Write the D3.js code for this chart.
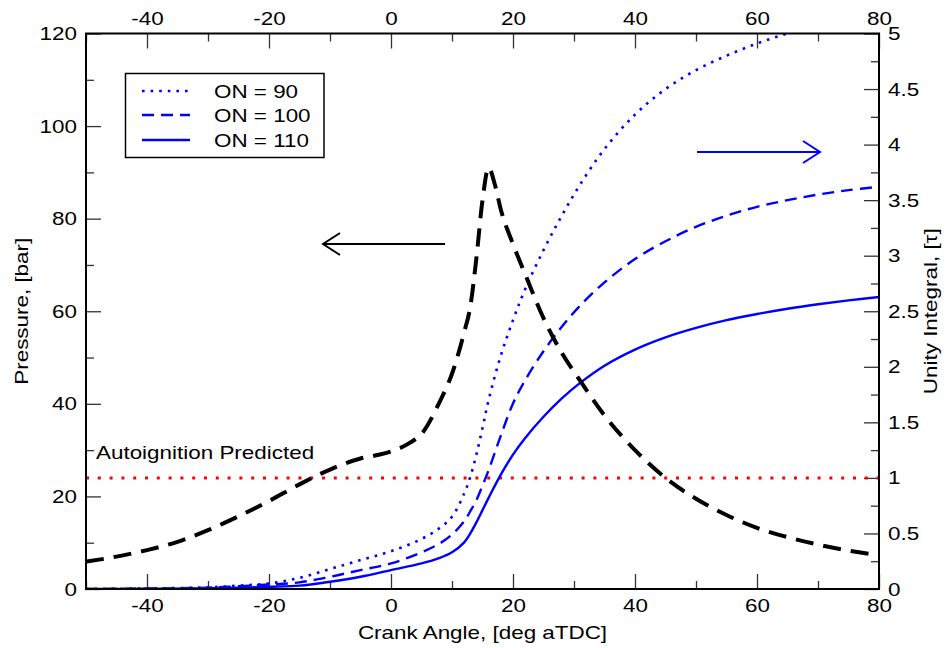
<!DOCTYPE html>
<html>
<head>
<meta charset="utf-8">
<script src="https://cdn.jsdelivr.net/npm/d3@7"></script>
<style>
  html, body { margin: 0; padding: 0; background: #fff; }
  svg { display: block; font-family: "Liberation Sans", Arial, Helvetica, sans-serif; }
</style>
</head>
<body>
<svg id="chart" width="949" height="648"></svg>
<script>
// Crank angle grid, deg aTDC
const pressureAngle = [-50,-45,-40,-35,-30,-25,-20,-15,-10,-5,-2,0,3,5,8,10,12,13,14,15,16,17,18,20,22,25,28,31,35,40,45,50,55,60,65,70,75,80];
// Cylinder pressure, bar (left axis)
const pressureBar  = [5.9,7.0,8.4,10.2,12.7,15.7,19.0,22.6,25.8,28.2,29.0,29.7,31.5,33.5,40.5,46.5,55.5,61,71.5,84,91,87.5,82,74.5,68,58.5,51,45,37.5,30,24,19.5,16,13.2,11.2,9.6,8.3,7.3];

// Unity integral (right axis) for three octane numbers
const tauAngle = [-50,-40,-30,-25,-20,-15,-10,-5,0,5,8,10,12,13,14,15,16,18,20,22,25,28,31,35,40,45,50,55,60,65,70,75,80];
const tauON90  = [0,0.005,0.015,0.03,0.05,0.10,0.18,0.26,0.34,0.45,0.55,0.65,0.86,1.01,1.21,1.45,1.70,2.10,2.42,2.70,3.05,3.36,3.64,3.96,4.27,4.50,4.67,4.80,4.91,5.00,5.07,5.13,5.18];
const tauON100 = [0,0.004,0.012,0.025,0.04,0.06,0.11,0.17,0.23,0.33,0.41,0.49,0.61,0.70,0.80,0.93,1.07,1.38,1.67,1.88,2.14,2.36,2.55,2.76,2.97,3.13,3.26,3.36,3.44,3.50,3.55,3.59,3.62];
const tauON110 = [0,0.002,0.008,0.012,0.02,0.03,0.065,0.11,0.17,0.23,0.28,0.33,0.42,0.50,0.60,0.71,0.82,1.03,1.21,1.36,1.55,1.715,1.855,2.01,2.155,2.265,2.35,2.42,2.475,2.523,2.563,2.598,2.628];

const seriesNames = ["ON = 90", "ON = 100", "ON = 110"];
const autoignitionLevel = 1;   // tau = 1

const xMajor = [-40,-20,0,20,40,60,80];
const xMinor = [-50,-30,-10,10,30,50,70];
const yLeftMajor = [0,20,40,60,80,100,120];
const yLeftMinor = [10,30,50,70,90,110];
const yRightMajor = [0,0.5,1,1.5,2,2.5,3,3.5,4,4.5,5];
const yRightMinor = [0.25,0.75,1.25,1.75,2.25,2.75,3.25,3.75,4.25,4.75];

const svg = d3.select("#chart");
const L = 86, R = 879, T = 33.5, B = 589;

const x = d3.scaleLinear().domain([-50, 80]).range([L, R]);
const yP = d3.scaleLinear().domain([0, 120]).range([B, T]);
const yT = d3.scaleLinear().domain([0, 5]).range([B, T]);

const fmt = d => String(d);
const FS = 19;

svg.append("defs").append("clipPath").attr("id", "plot")
  .append("rect").attr("x", L).attr("y", T).attr("width", R - L).attr("height", B - T);

function axisGroup(axis, tx, ty) {
  const g = svg.append("g").attr("transform", `translate(${tx},${ty})`).call(axis);
  g.select(".domain").remove();
  g.selectAll(".tick line").attr("stroke", "#333").attr("stroke-width", 1.3);
  g.selectAll(".tick text").attr("font-size", FS).attr("fill", "#000")
    .attr("font-family", "Liberation Sans, Arial, sans-serif");
  return g;
}

// Ticks point inward on all four sides
axisGroup(d3.axisBottom(x).tickValues(xMajor).tickFormat(fmt).tickSizeInner(-15).tickSizeOuter(0).tickPadding(10), 0, B);
axisGroup(d3.axisBottom(x).tickValues(xMinor).tickFormat("").tickSizeInner(-8).tickSizeOuter(0), 0, B);
axisGroup(d3.axisTop(x).tickValues(xMajor).tickFormat(fmt).tickSizeInner(-15).tickSizeOuter(0).tickPadding(9), 0, T);
axisGroup(d3.axisTop(x).tickValues(xMinor).tickFormat("").tickSizeInner(-8).tickSizeOuter(0), 0, T);
axisGroup(d3.axisLeft(yP).tickValues(yLeftMajor).tickFormat(fmt).tickSizeInner(-15).tickSizeOuter(0).tickPadding(9), L, 0);
axisGroup(d3.axisLeft(yP).tickValues(yLeftMinor).tickFormat("").tickSizeInner(-8).tickSizeOuter(0), L, 0);
axisGroup(d3.axisRight(yT).tickValues(yRightMajor).tickFormat(fmt).tickSizeInner(-15).tickSizeOuter(0).tickPadding(9), R, 0);
axisGroup(d3.axisRight(yT).tickValues(yRightMinor).tickFormat("").tickSizeInner(-8).tickSizeOuter(0), R, 0);

// Axis titles
svg.append("text").attr("x", (L + R) / 2).attr("y", 639).attr("text-anchor", "middle")
  .attr("font-size", FS).text("Crank Angle, [deg aTDC]");
svg.append("text").attr("transform", `translate(28,${(T + B) / 2}) rotate(-90)`)
  .attr("text-anchor", "middle").attr("font-size", FS).text("Pressure, [bar]");
svg.append("text").attr("transform", `translate(937,${(T + B) / 2}) rotate(-90)`)
  .attr("text-anchor", "middle").attr("font-size", FS).text("Unity Integral, [τ]");

const plot = svg.append("g").attr("clip-path", "url(#plot)");

// Autoignition threshold
plot.append("line")
  .attr("x1", x(-50)).attr("x2", x(80))
  .attr("y1", yT(autoignitionLevel)).attr("y2", yT(autoignitionLevel))
  .attr("stroke", "#ff0000").attr("stroke-width", 3).attr("stroke-dasharray", "3,8.8");
svg.append("text").attr("x", L + 10).attr("y", yT(autoignitionLevel) - 19)
  .attr("font-size", FS).text("Autoignition Predicted");

// Unity integral curves
const tauStyles = [
  { data: tauON90,  dash: "2.6,6",  width: 2.6 },
  { data: tauON100, dash: "12,7",   width: 2.4 },
  { data: tauON110, dash: null,     width: 2.4 }
];
const tauLine = d3.line().x((d, i) => x(tauAngle[i])).y(d => yT(d)).curve(d3.curveCatmullRom.alpha(0.5));
tauStyles.forEach(s => {
  plot.append("path").datum(s.data).attr("d", tauLine)
    .attr("fill", "none").attr("stroke", "#0000ff").attr("stroke-width", s.width)
    .attr("stroke-dasharray", s.dash);
});

// Pressure trace
const pLine = d3.line().x((d, i) => x(pressureAngle[i])).y(d => yP(d)).curve(d3.curveMonotoneX);
plot.append("path").datum(pressureBar).attr("d", pLine)
  .attr("fill", "none").attr("stroke", "#000").attr("stroke-width", 4)
  .attr("stroke-dasharray", "18,10");

// Frame
svg.append("rect").attr("x", L).attr("y", T).attr("width", R - L).attr("height", B - T)
  .attr("fill", "none").attr("stroke", "#000").attr("stroke-width", 2);

// Axis-indicator arrows
function arrow(x1, x2, y, color) {
  const dir = Math.sign(x2 - x1);
  svg.append("line").attr("x1", x1).attr("x2", x2).attr("y1", y).attr("y2", y)
    .attr("stroke", color).attr("stroke-width", 2);
  svg.append("path")
    .attr("d", `M${x2 - dir * 17},${y - 11}L${x2},${y}L${x2 - dir * 17},${y + 11}`)
    .attr("fill", "none").attr("stroke", color).attr("stroke-width", 2);
}
arrow(445, 323, 244, "#000");
arrow(697, 820, 152, "#0000ff");

// Legend
const lg = svg.append("g");
lg.append("rect").attr("x", 125.5).attr("y", 73.5).attr("width", 198.5).attr("height", 84)
  .attr("fill", "#fff").attr("stroke", "#000").attr("stroke-width", 1.5);
const rowsY = [91, 115, 140];
tauStyles.forEach((s, i) => {
  lg.append("line").attr("x1", 142).attr("x2", 190).attr("y1", rowsY[i]).attr("y2", rowsY[i])
    .attr("stroke", "#0000ff").attr("stroke-width", s.width).attr("stroke-dasharray", s.dash);
  lg.append("text").attr("x", 214).attr("y", rowsY[i]).attr("dy", "0.35em")
    .attr("font-size", FS).text(seriesNames[i]);
});

// Wide-set lettering: stretch every label along its baseline
svg.selectAll("text").each(function () {
  const w = this.getComputedTextLength();
  if (w > 0) {
    this.setAttribute("textLength", (w * 1.18).toFixed(1));
    this.setAttribute("lengthAdjust", "spacingAndGlyphs");
  }
});
</script>
</body>
</html>
